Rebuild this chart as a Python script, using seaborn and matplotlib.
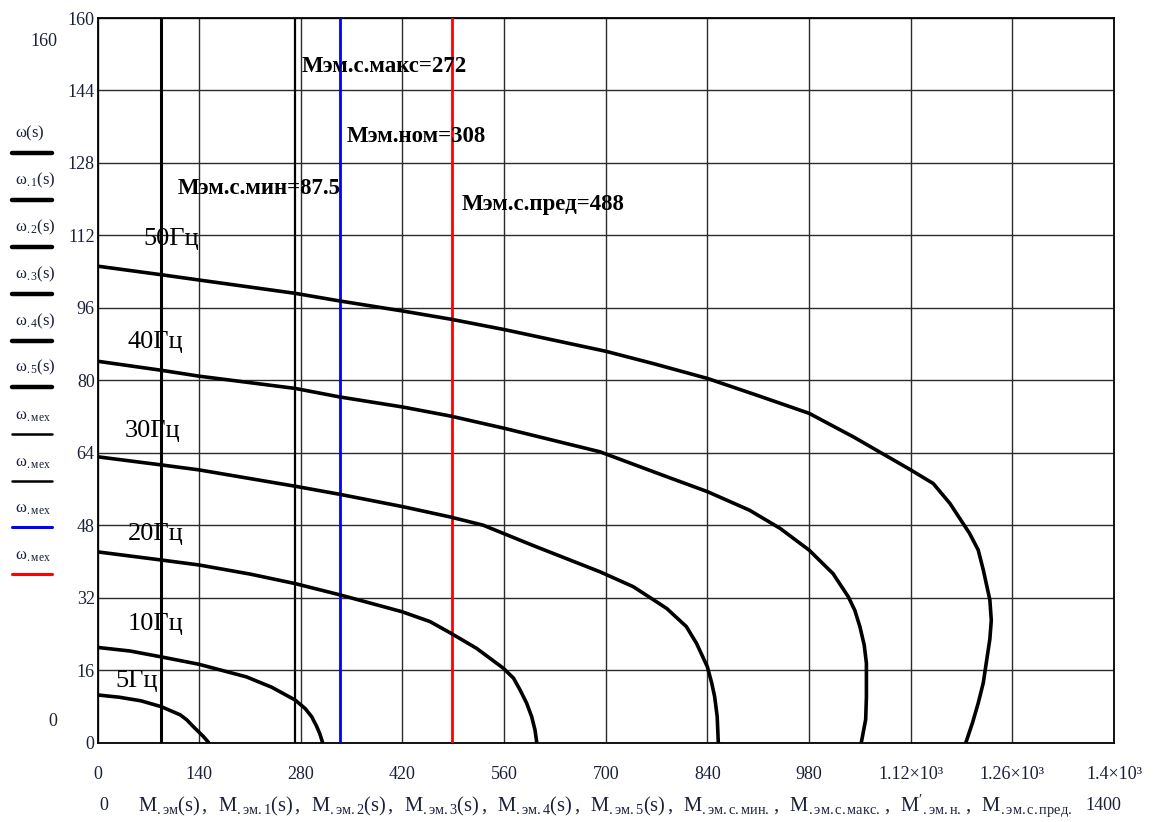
import matplotlib
matplotlib.use("Agg")
import matplotlib.pyplot as plt
import numpy as np
import pandas as pd
import seaborn as sns
from matplotlib.lines import Line2D

# ---------------- data ----------------
curve_names = ["5Гц", "10Гц", "20Гц", "30Гц", "40Гц", "50Гц"]

m_5 = [0, 30, 60, 88, 114, 123, 132, 146, 153]
w_5 = [10.5, 10.0, 9.2, 7.9, 6.1, 5.0, 3.5, 1.3, 0]

m_10 = [0, 45, 88, 139, 205, 240, 272, 286, 295, 302, 306, 310]
w_10 = [21.0, 20.2, 18.9, 17.3, 14.5, 12.2, 9.4, 7.5, 5.7, 3.5, 2.0, 0]

m_20 = [0, 88, 140, 210, 272, 334, 419, 458, 487, 522, 559, 573, 582, 591, 598, 602.5, 605]
w_20 = [42.1, 40.3, 39.2, 37.2, 35.1, 32.6, 28.9, 26.7, 24.1, 20.8, 16.4, 14.2, 11.6, 8.7, 5.7, 2.8, 0]

m_30 = [0, 88, 140, 272, 334, 420, 486, 531, 600, 692, 738, 784, 811, 825, 840, 846, 850, 853.5, 855]
w_30 = [63.1, 61.3, 60.2, 56.6, 54.8, 52.1, 49.8, 48.0, 43.5, 37.7, 34.4, 29.6, 25.6, 21.9, 16.7, 13.1, 10.1, 5.7, 0]

m_40 = [0, 88, 140, 272, 334, 420, 486, 560, 692, 784, 840, 898, 940, 980, 1013, 1034,
        1043, 1050, 1056, 1059, 1059, 1058, 1052]
w_40 = [84.2, 82.2, 80.9, 78.2, 76.3, 74.1, 72.1, 69.4, 64.2, 58.7, 55.4, 51.3, 47.3, 42.5, 37.3, 32.2,
        29.2, 25.6, 21.5, 17.5, 10.1, 5.1, 0]

m_50 = [0, 88, 137, 272, 334, 420, 486, 560, 700, 765, 840, 908, 980, 1041, 1120, 1151, 1174, 1201,
        1213, 1220, 1229, 1231, 1229, 1224, 1220, 1213, 1205, 1196]
w_50 = [105.2, 103.3, 102.2, 99.2, 97.5, 95.3, 93.5, 91.2, 86.4, 83.7, 80.4, 76.7, 72.7, 67.5, 60.2, 57.2, 52.8, 46.2,
        42.5, 38.1, 31.5, 27.0, 22.8, 17.5, 13.2, 8.7, 4.3, 0]

# vertical reference torques
m_ref = [87.5, 272, 334, 488]
m_ref_colors = ["black", "black", "#0000ff", "#ff0000"]
m_ref_texts = ["Mэм.с.мин=87.5", "Mэм.с.макс=272", "Mэм.ном=308", "Mэм.с.пред=488"]

x_ticks = [0, 140, 280, 420, 560, 700, 840, 980, 1120, 1260, 1400]
x_tick_labels = ["0", "140", "280", "420", "560", "700", "840", "980",
                 "1.12×10³", "1.26×10³", "1.4×10³"]
y_ticks = [0, 16, 32, 48, 64, 80, 96, 112, 128, 144, 160]

legend_labels = [r"$\mathrm{ω(s)}$", r"$\mathrm{ω_{.1}(s)}$", r"$\mathrm{ω_{.2}(s)}$",
                 r"$\mathrm{ω_{.3}(s)}$", r"$\mathrm{ω_{.4}(s)}$", r"$\mathrm{ω_{.5}(s)}$",
                 r"$\mathrm{ω_{.мех}}$", r"$\mathrm{ω_{.мех}}$", r"$\mathrm{ω_{.мех}}$",
                 r"$\mathrm{ω_{.мех}}$"]
legend_colors = ["black"] * 8 + ["#0000ff", "#ff0000"]

x_label_parts = [r"M_{.эм}(s)", r"M_{.эм.1}(s)", r"M_{.эм.2}(s)", r"M_{.эм.3}(s)", r"M_{.эм.4}(s)",
                 r"M_{.эм.5}(s)", r"M_{.эм.с.мин.}", r"M_{.эм.с.макс.}", r"M'_{.эм.н.}", r"M_{.эм.с.пред.}"]
x_label = r"$\mathrm{" + r"\,,\;\;".join(x_label_parts) + r"}$"

# ---------------- build long table ----------------
ms = [m_5, m_10, m_20, m_30, m_40, m_50]
ws = [w_5, w_10, w_20, w_30, w_40, w_50]
frames = []
for name, m, w in zip(curve_names, ms, ws):
    frames.append(pd.DataFrame({"M": m, "w": w, "curve": name}))
df = pd.concat(frames, ignore_index=True)

# ---------------- style ----------------
sns.set_theme(style="white")
plt.rcParams["font.family"] = ["Liberation Serif", "DejaVu Serif"]
plt.rcParams["mathtext.fontset"] = "custom"
plt.rcParams["mathtext.rm"] = "Liberation Serif"
plt.rcParams["mathtext.it"] = "Liberation Serif:italic"
plt.rcParams["mathtext.bf"] = "Liberation Serif:bold"

W, H = 1156, 822
fig = plt.figure(figsize=(W / 100, H / 100), dpi=100)
fig.patch.set_facecolor("white")
ax = fig.add_axes([97.5 / W, 1 - 742.5 / H, (1114 - 97.5) / W, (742.5 - 18) / H])

TXT = "#1a1f3a"

sns.lineplot(data=df, x="M", y="w", units="curve", estimator=None, sort=False,
             color="black", linewidth=2.6, ax=ax, zorder=5,
             solid_joinstyle="round", solid_capstyle="round")

ax.set_xlim(0, 1400)
ax.set_ylim(0, 160)
ax.set_xticks(x_ticks)
ax.set_xticklabels(x_tick_labels)
ax.set_yticks(y_ticks)
ax.set_yticklabels([str(v) for v in y_ticks])
ax.grid(True, color="#2b2b2b", linewidth=1.0)
ax.set_axisbelow(True)
ax.tick_params(axis="both", length=0, labelsize=13, labelcolor=TXT)
ax.tick_params(axis="x", pad=17)
ax.tick_params(axis="y", pad=2)
ax.set_xlabel("")
ax.set_ylabel("")
for s in ax.spines.values():
    s.set_color("black")
    s.set_linewidth(1.3)

ref_widths = [2.2, 1.6, 2.0, 2.0]
for xv, c, lw in zip(m_ref, m_ref_colors, ref_widths):
    ax.axvline(xv, color=c, linewidth=lw, zorder=4)

# reference labels (bold)
ref_text_pos = [(111, 121.1), (281, 148.0), (343, 132.6), (501.5, 117.5)]
for t, (xx, yy) in zip(m_ref_texts, ref_text_pos):
    ax.text(xx, yy, t, fontsize=16.5, fontweight="bold", color="black",
            ha="left", va="baseline", zorder=6)

# frequency labels
freq_pos = [(24, 12.3), (42, 24.8), (42, 44.7), (38, 67.4), (42, 87.1), (62.6, 109.8)]
for t, (xx, yy) in zip(curve_names, freq_pos):
    ax.text(xx, yy, t, fontsize=19, color="black", ha="left", va="baseline", zorder=6)

# ---------------- left legend ----------------
line_y = [153, 200, 247, 294, 341, 387, 434, 481, 527, 574]
for lab, c, ly, k in zip(legend_labels, legend_colors, line_y, range(10)):
    lw = 3.2 if k < 6 else (1.8 if k < 8 else 2.2)
    fig.add_artist(Line2D([12 / W, 52 / W], [1 - ly / H, 1 - ly / H], color=c, linewidth=lw))
    fig.text(15 / W, 1 - (ly - 10) / H, lab, fontsize=12, color=TXT, ha="left", va="bottom")

# Mathcad range labels
fig.text(44 / W, 1 - 42 / H, "160", fontsize=13, color=TXT, ha="center", va="center")
fig.text(53 / W, 1 - 721 / H, "0", fontsize=13, color=TXT, ha="center", va="center")

# x label row
fig.text(103.8 / W, 1 - 805 / H, "0", fontsize=13, color=TXT, ha="center", va="center")
fig.text(138 / W, 1 - 811 / H, x_label, fontsize=14.8, color=TXT, ha="left", va="baseline")
fig.text(1103 / W, 1 - 805 / H, "1400", fontsize=13, color=TXT, ha="center", va="center")

fig.savefig("out.png", dpi=100, facecolor="white")
